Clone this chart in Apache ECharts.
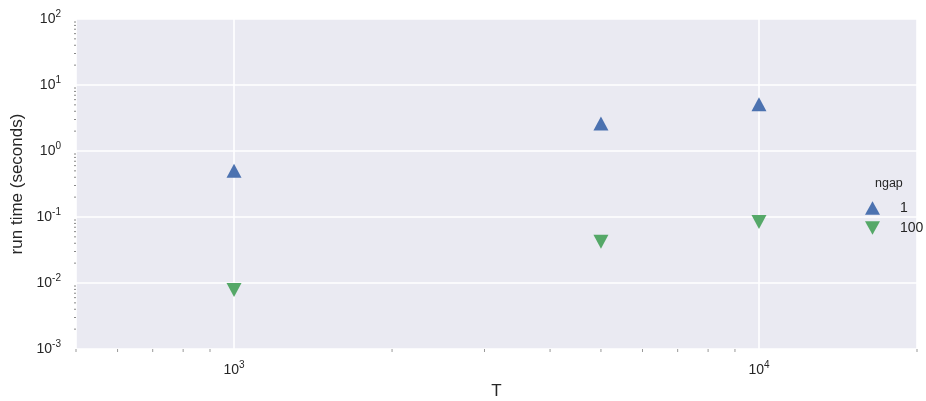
<!DOCTYPE html>
<html><head><meta charset="utf-8">
<script src="https://cdn.jsdelivr.net/npm/echarts@6/dist/echarts.min.js"></script>
<style>html,body{margin:0;padding:0;background:#fff}#c{width:926px;height:401px}</style>
</head><body><div id="c"></div>
<script>
const T = [1000, 5000, 10000];
const ngap1 = [0.50, 2.6, 5.1];
const ngap100 = [0.0078, 0.042, 0.084];
const seriesNames = ['1', '100'];
const legendTitle = 'ngap';
const xMinorTicks = [500,600,700,800,900,2000,3000,4000,5000,6000,7000,8000,9000,20000];
const yMinorTicks = [];
[0.001,0.01,0.1,1,10].forEach(d => { for (let k = 2; k <= 9; k++) yMinorTicks.push(+(d*k).toPrecision(3)); });

const FONT = '"Liberation Sans", Arial, sans-serif';
const chart = echarts.init(document.getElementById('c'), null, {renderer: 'canvas'});
function sci(v) {
  const e = Math.log10(v);
  if (Math.abs(e - Math.round(e)) > 1e-6) return '';
  return '{b|10}{s|' + Math.round(e) + '}';
}
const rich = {
  b: {fontSize: 14, fontFamily: FONT, color: '#262626'},
  s: {fontSize: 10, fontFamily: FONT, color: '#262626', padding: [0, 0, 10, 0]}
};
const downTri = 'path://M0,0L2,0L1,1.8Z';
const upTri = 'path://M1,0L2,1.8L0,1.8Z';
chart.setOption({
  animation: false,
  backgroundColor: '#fff',
  grid: {left: 76, right: 9, top: 19, bottom: 52, backgroundColor: '#EAEAF2', show: true, borderWidth: 0,
         containLabel: false, outerBoundsMode: 'none'},
  xAxis: {
    type: 'log', logBase: 10, min: 500, max: 20000,
    name: 'T', nameLocation: 'middle', nameGap: 34,
    nameTextStyle: {fontSize: 17, fontFamily: FONT, color: '#262626'},
    axisLine: {show: false}, axisTick: {show: false},
    axisLabel: {formatter: sci, rich: rich, margin: 11, showMinLabel: true, showMaxLabel: true},
    splitLine: {show: true, lineStyle: {color: '#fff', width: 1.6}},
    minorTick: {show: false}
  },
  yAxis: {
    type: 'log', logBase: 10, min: 0.001, max: 100,
    name: 'run time (seconds)', nameLocation: 'middle', nameGap: 49,
    nameTextStyle: {fontSize: 17, fontFamily: FONT, color: '#262626'},
    axisLine: {show: false}, axisTick: {show: false},
    axisLabel: {formatter: sci, rich: rich, margin: 15},
    splitLine: {show: true, lineStyle: {color: '#fff', width: 1.6}}
  },
  legend: {
    orient: 'vertical', left: 860, top: 196, itemWidth: 15, itemHeight: 14, itemGap: 6,
    textStyle: {fontSize: 14, fontFamily: FONT, color: '#262626', padding: [0,0,0,15]},
    data: [{name: '1', icon: upTri}, {name: '100', icon: downTri}]
  },
  graphic: [{type: 'text', left: 875, top: 177, style: {text: legendTitle, fontSize: 12.5, fontFamily: FONT, fill: '#262626'}}],
  series: [
    {name: seriesNames[0], type: 'scatter', symbol: upTri, symbolSize: [15, 14],
     itemStyle: {color: '#4C72B0', opacity: 1}, data: T.map((t, i) => [t, ngap1[i]]), z: 5},
    {name: seriesNames[1], type: 'scatter', symbol: downTri, symbolSize: [15, 14],
     itemStyle: {color: '#55A868', opacity: 1}, data: T.map((t, i) => [t, ngap100[i]]), z: 5},
    {type: 'custom', clip: false, silent: true, data: xMinorTicks.map(v => [v, 0.001]),
     renderItem: (p, api) => { const pt = api.coord([api.value(0), api.value(1)]);
       return {type: 'line', shape: {x1: pt[0], y1: pt[1], x2: pt[0], y2: pt[1] + 3}, style: {stroke: '#999', lineWidth: 1}}; }},
    {type: 'custom', clip: false, silent: true, data: yMinorTicks.map(v => [500, v]),
     renderItem: (p, api) => { const pt = api.coord([api.value(0), api.value(1)]);
       return {type: 'line', shape: {x1: pt[0] - 2, y1: pt[1], x2: pt[0], y2: pt[1]}, style: {stroke: '#888', lineWidth: 1}}; }}
  ]
});
</script></body></html>
